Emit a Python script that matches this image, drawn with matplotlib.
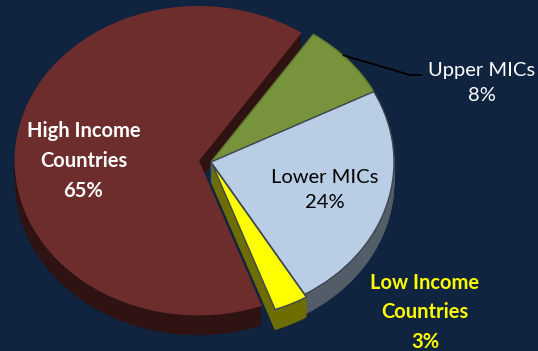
import numpy as np
import matplotlib.pyplot as plt

# Share of the total by country income group
groups = ["High Income\nCountries", "Upper MICs", "Lower MICs", "Low Income\nCountries"]
shares = [65, 8, 24, 3]
pct_labels = ["65%", "8%", "24%", "3%"]

explode = [0.07, 0.0, 0.0, 0.02]
top_colors = ["#6D2D2D", "#77933C", "#B9CDE5", "#FFFF00"]
side_colors = ["#2F1212", "#4E6226", "#535D68", "#6E6E00"]
edge_colors = ["#6D2D2D", "#5E7A2C", "#3C4650", "#3C4650"]
bg = "#10233F"

fig = plt.figure(figsize=(5.38, 3.51), dpi=100, facecolor=bg)
ax = fig.add_axes([0, 0, 1, 1])
ax.set_facecolor(bg)

start = 290
depth = 0.13
n_layers = 18

# side walls: stacked copies of the pie, lowest first
for i in range(n_layers, 0, -1):
    dy = -depth * i / n_layers
    ws, _ = ax.pie(shares, explode=explode, colors=side_colors, startangle=start,
                   counterclock=False, center=(0, dy), frame=True,
                   wedgeprops=dict(linewidth=0.6))
    for w, c in zip(ws, side_colors):
        w.set_edgecolor(c)

# top face
wedges, _ = ax.pie(shares, explode=explode, colors=top_colors, startangle=start,
                   counterclock=False, center=(0, 0), frame=True,
                   wedgeprops=dict(linewidth=1.0))
for w, ec in zip(wedges, edge_colors):
    w.set_edgecolor(ec)

ax.set_aspect("auto")
ax.set_xlim(-1.153, 1.787)
ax.set_ylim(-1.227, 1.052)
ax.axis("off")

font = "Lato"
fs = 14.5
ls = 1.6

ax.text(-0.697, 0.006, f"{groups[0]}\n{pct_labels[0]}", ha="center", va="center",
        color="white", fontsize=fs, fontweight="bold", family=font, linespacing=ls)
ax.text(0.623, -0.182, f"{groups[2]}\n{pct_labels[2]}", ha="center", va="center",
        color="black", fontsize=fs, family=font, linespacing=ls)
ax.text(1.481, 0.513, f"{groups[1]}\n{pct_labels[1]}", ha="center", va="center",
        color="white", fontsize=fs, family=font, linespacing=ls)
ax.text(1.169, -0.975, f"{groups[3]}\n{pct_labels[3]}", ha="center", va="center",
        color="#FFFF00", fontsize=fs, fontweight="bold", family=font, linespacing=ls)

# leader line for the Upper MICs wedge
ang = np.deg2rad(44)
x0, y0 = np.cos(ang), np.sin(ang)
ax.plot([x0, 1.087, 1.153], [y0, 0.565, 0.565], color="black", lw=1.3,
        solid_capstyle="butt")

fig.savefig("out.png", dpi=100, facecolor=bg)
